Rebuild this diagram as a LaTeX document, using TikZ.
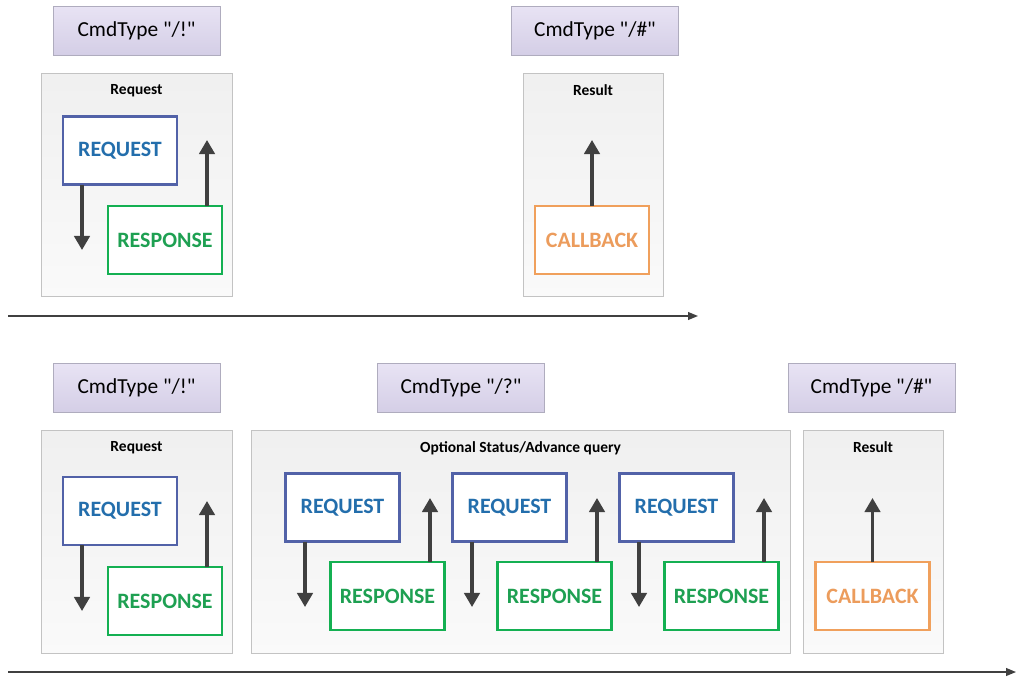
\documentclass[tikz,border=0pt]{standalone}
\usepackage{fontspec}
\setmainfont{Carlito}[Ligatures=TeXOff]
\usetikzlibrary{arrows.meta, calc, positioning}
\definecolor{tabTop}{RGB}{232,227,244}
\definecolor{tabBot}{RGB}{212,206,230}
\definecolor{tabLine}{RGB}{175,172,190}
\definecolor{panelLine}{RGB}{195,195,195}
\definecolor{reqLine}{RGB}{82,98,168}
\definecolor{reqText}{RGB}{35,110,172}
\definecolor{resLine}{RGB}{20,176,82}
\definecolor{resText}{RGB}{30,160,82}
\definecolor{cbLine}{RGB}{240,160,92}
\definecolor{cbText}{RGB}{236,156,92}
\definecolor{flecha}{RGB}{64,64,64}

\tikzset{
  boxsize/.style 2 args={minimum width=#1*0.025cm, minimum height=#2*0.025cm, inner sep=0pt, outer sep=0pt},
  cmdtab/.style={boxsize={167}{49}, draw=tabLine, top color=tabTop, bottom color=tabBot,
    font=\fontsize{15.2}{17}\selectfont},
  panel/.style={draw=panelLine, top color=white!94!black, bottom color=white!98!black},
  ttl/.style={font=\fontsize{11}{12}\selectfont\bfseries, inner sep=1pt},
  reqbox/.style={boxsize={114}{68}, draw=reqLine, line width=1.8pt, fill=white,
    text=reqText, font=\fontsize{15.6}{18}\selectfont\bfseries},
  resbox/.style={boxsize={114}{68}, draw=resLine, line width=1.8pt, fill=white,
    text=resText, font=\fontsize{15.6}{18}\selectfont\bfseries},
  cbbox/.style={boxsize={114}{68}, draw=cbLine, line width=1.8pt, fill=white,
    text=cbText, font=\fontsize{15.6}{18}\selectfont\bfseries},
  flow/.style={draw=flecha, line width=2.2pt, -{Triangle[length=10pt, width=11pt]}},
  timeline/.style={draw=flecha, line width=1pt, -{Triangle[length=7pt, width=5.5pt]}}
}

\begin{document}
\begin{tikzpicture}[x=0.025cm, y=-0.025cm]
  \useasboundingbox (0,0) rectangle (1016,677);

  % ---------- Fila superior ----------
  \node[cmdtab] (tA) at (136.5,30.5) {CmdType "/!"};
  \node[cmdtab] (tB) at (595,30.5) {CmdType "/\#"};

  \node[panel, boxsize={191}{223}] (pA) at (136.5,184.5) {};
  \node[panel, boxsize={140}{223}] (pB) at (593,184.5) {};
  \node[ttl, below=2.4mm of pA.north] (ttlA) {Request};
  \node[ttl, below=2.4mm of pB.north] (ttlB) {Result};

  \node[reqbox] (rqA) at (120,150.5) {REQUEST};
  \node[resbox] (rsA) at (165,240) {RESPONSE};
  \node[cbbox] (cbA) at (592,240) {CALLBACK};

  \coordinate (dA) at (82,250);
  \coordinate (uA) at (207,140);
  \coordinate (cA) at (592,140);
  \draw[flow] (rqA.south -| dA) -- (dA);
  \draw[flow] (rsA.north -| uA) -- (uA);
  \draw[flow] (cbA.north) -- (cA);

  % linea de tiempo
  \coordinate (ltA0) at (8,316);
  \coordinate (ltA1) at (698,316);
  \draw[timeline] (ltA0) -- (ltA1);

  % ---------- Fila inferior ----------
  \node[cmdtab] (tC) at (136.5,388) {CmdType "/!"};
  \node[cmdtab] (tD) at (461,388) {CmdType "/?"};
  \node[cmdtab] (tE) at (871.5,388) {CmdType "/\#"};

  \node[panel, boxsize={191}{223}] (pC) at (136.5,541.5) {};
  \node[panel, boxsize={539}{223}] (pD) at (520.5,541.5) {};
  \node[panel, boxsize={140}{223}] (pE) at (873,541.5) {};
  \node[ttl, below=2.4mm of pC.north] (ttlC) {Request};
  \node[ttl, below=2.4mm of pD.north] (ttlD) {Optional Status/Advance query};
  \node[ttl, below=2.4mm of pE.north] (ttlE) {Result};

  \node[reqbox] (rqC) at (120,511) {REQUEST};
  \node[resbox] (rsC) at (165,601) {RESPONSE};
  \coordinate (dC) at (82,611);
  \coordinate (uC) at (207,501);
  \draw[flow] (rqC.south -| dC) -- (dC);
  \draw[flow] (rsC.north -| uC) -- (uC);

  % consultas opcionales
  \foreach \i in {0,1,2} {
    \node[reqbox] (rqD\i) at (342.5+167*\i,507.5) {REQUEST};
    \node[resbox] (rsD\i) at (387.5+167*\i,596) {RESPONSE};
    \coordinate (dD\i) at (305+167*\i,607);
    \coordinate (uD\i) at (430+167*\i,498);
    \draw[flow] (rqD\i.south -| dD\i) -- (dD\i);
    \draw[flow] (rsD\i.north -| uD\i) -- (uD\i);
  }

  \node[cbbox] (cbE) at (872.5,596) {CALLBACK};
  \coordinate (cE) at (872.5,498);
  \draw[flow] (cbE.north) -- (cE);

  % linea de tiempo
  \coordinate (ltC0) at (8,672);
  \coordinate (ltC1) at (1016,672);
  \draw[timeline] (ltC0) -- (ltC1);
\end{tikzpicture}
\end{document}
